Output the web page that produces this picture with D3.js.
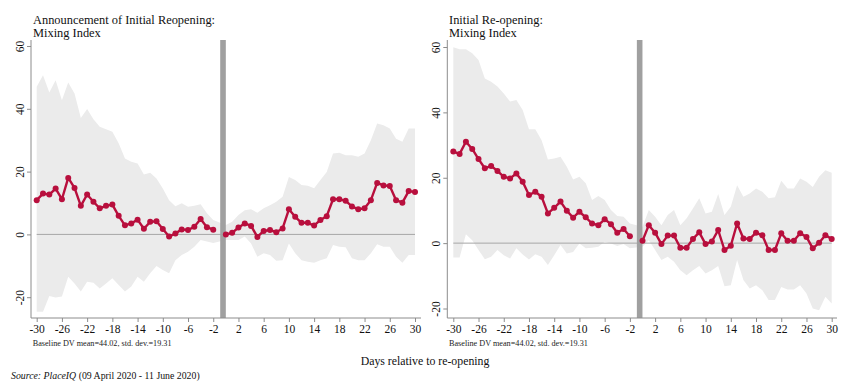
<!DOCTYPE html>
<html>
<head>
<meta charset="utf-8">
<script src="https://cdn.jsdelivr.net/npm/d3@7/dist/d3.min.js"></script>
<style>
  body { margin: 0; background: #fff; }
  svg { display: block; }
  svg text { font-family: "Liberation Serif", "Times New Roman", serif; }
</style>
</head>
<body>
<svg id="chart" width="850" height="392"></svg>
<script>
// ---- Data ----
const days = [-30,-29,-28,-27,-26,-25,-24,-23,-22,-21,-20,-19,-18,-17,-16,-15,-14,-13,-12,-11,-10,-9,-8,-7,-6,-5,-4,-3,-2,
              0,1,2,3,4,5,6,7,8,9,10,11,12,13,14,15,16,17,18,19,20,21,22,23,24,25,26,27,28,29,30];
const xTicks = [-30,-26,-22,-18,-14,-10,-6,-2,2,6,10,14,18,22,26,30];
const yTicks = [-20,0,20,40,60];

// Panel 1: Announcement of Initial Reopening
const annEst = [10.9,13.0,12.7,14.6,11.2,18.0,14.8,9.1,12.7,10.4,8.3,9.1,9.5,5.9,2.9,3.5,4.7,1.8,4.0,4.2,1.7,-0.7,0.3,1.6,1.4,2.4,4.9,2.3,1.5,
                0.0,0.5,2.2,3.5,2.7,-0.8,1.1,1.4,0.7,1.9,8.0,5.6,3.7,3.7,2.8,4.6,5.8,11.2,11.2,10.7,8.9,8.0,8.3,10.9,16.4,15.6,15.4,10.9,10.1,13.8,13.5];
const annHi  = [47.0,50.7,45.2,49.1,42.7,48.4,44.9,37.1,39.9,36.7,34.3,33.5,32.7,29.0,24.2,23.1,22.6,19.1,19.6,17.8,14.6,10.9,9.0,9.9,8.8,9.1,9.6,6.7,4.6,
                3.0,4.0,6.2,7.7,8.0,6.9,8.3,9.3,10.4,12.0,18.3,17.3,15.7,15.5,14.7,17.3,19.9,25.8,26.0,25.2,25.2,24.7,25.8,30.0,35.3,34.8,33.7,30.5,29.5,33.7,33.7];
const annLo  = [-24.6,-24.6,-19.6,-20.1,-19.8,-13.5,-15.6,-18.2,-15.1,-15.4,-17.2,-15.6,-14.0,-16.1,-18.2,-16.6,-13.5,-15.1,-12.4,-10.1,-11.3,-12.4,-8.2,-6.6,-5.5,-3.9,-1.8,-2.3,-2.7,
                -1.8,-1.8,-1.8,-0.7,-2.9,-7.1,-6.0,-6.6,-8.4,-8.2,-2.9,-6.0,-8.2,-8.7,-9.0,-8.2,-7.6,-3.4,-3.9,-4.1,-7.6,-8.2,-8.2,-6.0,-3.1,-3.9,-3.9,-7.1,-9.0,-6.6,-6.6];

// Panel 2: Initial Re-opening
const reoEst = [28.0,27.3,31.0,28.8,25.7,22.9,23.6,22.1,20.3,19.8,21.3,18.8,14.7,15.7,14.2,9.1,10.8,12.7,9.9,7.8,9.6,7.9,6.0,5.5,7.3,5.8,3.2,4.3,2.1,
                0.7,5.5,3.2,-0.3,2.3,2.3,-1.4,-1.4,1.3,3.3,-0.3,0.5,4.0,-2.1,-0.8,6.0,1.4,1.3,3.2,2.4,-2.1,-2.1,3.0,0.7,0.7,3.0,1.9,-1.6,0.1,2.4,1.3];
const reoHi  = [59.9,59.3,59.3,58.1,56.0,50.4,49.4,47.9,45.8,43.3,43.8,40.7,34.8,34.8,31.5,25.6,25.9,26.4,23.4,19.5,20.3,18.3,13.2,14.4,13.2,10.1,8.3,8.1,6.0,
                5.0,10.1,8.1,5.5,8.6,10.1,5.5,7.6,10.6,13.7,9.1,9.6,15.0,8.6,11.1,17.7,14.2,15.2,16.7,15.7,13.7,14.0,19.1,16.7,16.7,19.8,18.8,17.2,20.3,22.3,21.5];
const reoLo  = [-4.4,-4.4,2.7,0.9,-2.1,-4.9,-4.2,-2.1,-3.7,-4.7,-1.6,-3.5,-5.0,-3.4,-4.2,-6.7,-3.7,-0.6,-3.2,-2.7,-0.1,-1.6,-1.4,-1.1,0.4,-0.1,-0.9,-0.3,-1.6,
                -1.1,0.9,-2.1,-5.2,-4.2,-5.7,-8.3,-9.8,-8.3,-7.0,-9.3,-8.3,-7.0,-13.2,-12.9,-5.2,-11.3,-13.9,-12.9,-14.4,-17.4,-17.4,-13.4,-14.2,-14.2,-12.9,-15.4,-20.0,-20.5,-16.4,-18.5];

const titles = [["Announcement of Initial Reopening:", "Mixing Index"], ["Initial Re-opening:", "Mixing Index"]];
const baselineNote = "Baseline DV mean=44.02, std. dev.=19.31";
const xTitle = "Days relative to re-opening";
const eventDay = -0.45;

// ---- Layout ----
const SERIF = "'Liberation Serif', 'Times New Roman', serif";
const panels = [
  { title: titles[0], est: annEst, hi: annHi, lo: annLo,
    axX: 31, axRight: 421, axTop: 40, axBottom: 318,
    xr: [36.7, 415], yr: [297.2, 46], textX: 33 },
  { title: titles[1], est: reoEst, hi: reoHi, lo: reoLo,
    axX: 447.3, axRight: 837, axTop: 40, axBottom: 318,
    xr: [453.3, 831.7], yr: [308.5, 47], textX: 449 }
];

const RED = "#b80f3d";
const svg = d3.select("#chart");

panels.forEach(p => {
  const x = d3.scaleLinear().domain([-30, 30]).range(p.xr);
  const y = d3.scaleLinear().domain([-20, 60]).range(p.yr);
  const g = svg.append("g");
  const rows = days.map((d, i) => ({ d, est: p.est[i], hi: p.hi[i], lo: p.lo[i] }));

  // CI band
  g.append("path").datum(rows)
    .attr("fill", "#ebebeb")
    .attr("d", d3.area().x(r => x(r.d)).y0(r => y(r.lo)).y1(r => y(r.hi)));

  // zero line
  g.append("line")
    .attr("x1", x(-30)).attr("x2", x(30)).attr("y1", y(0)).attr("y2", y(0))
    .attr("stroke", "#a6a6a6").attr("stroke-width", 1);

  // event bar
  g.append("rect")
    .attr("x", x(eventDay) - 2.8).attr("width", 5.6)
    .attr("y", p.axTop).attr("height", p.axBottom - p.axTop)
    .attr("fill", "#a0a0a0");

  // estimate lines (pre and post separately)
  const line = d3.line().x(r => x(r.d)).y(r => y(r.est));
  [rows.filter(r => r.d < 0), rows.filter(r => r.d >= 0)].forEach(seg => {
    g.append("path").datum(seg)
      .attr("fill", "none").attr("stroke", RED).attr("stroke-width", 2.4)
      .attr("stroke-linejoin", "round").attr("d", line);
  });
  g.selectAll("circle.pt").data(rows).join("circle")
    .attr("class", "pt")
    .attr("cx", r => x(r.d)).attr("cy", r => y(r.est)).attr("r", 3)
    .attr("fill", RED);

  // axes
  const xAxis = d3.axisBottom(x).tickValues(xTicks).tickFormat(d => String(d)).tickSize(4).tickPadding(3);
  const gx = g.append("g").attr("transform", `translate(0,${p.axBottom})`).call(xAxis)
    .attr("font-family", SERIF).attr("font-size", 11.5);
  gx.select(".domain").remove();
  gx.append("line").attr("x1", p.axX).attr("x2", p.axRight).attr("stroke", "#8c8c8c");
  gx.selectAll(".tick line").attr("stroke", "#8c8c8c");
  gx.selectAll("text").attr("fill", "#111");

  const yAxis = d3.axisLeft(y).tickValues(yTicks).tickFormat(d => String(d)).tickSize(4).tickPadding(3);
  const gy = g.append("g").attr("transform", `translate(${p.axX},0)`).call(yAxis)
    .attr("font-family", SERIF).attr("font-size", 11.5);
  gy.select(".domain").remove();
  gy.append("line").attr("y1", p.axTop).attr("y2", p.axBottom).attr("stroke", "#8c8c8c");
  gy.selectAll(".tick line").attr("stroke", "#8c8c8c");
  gy.selectAll(".tick text")
    .attr("x", null).attr("dy", null)
    .attr("transform", "translate(-7,0) rotate(-90)")
    .attr("text-anchor", "middle").attr("fill", "#111");

  // titles
  g.append("text").attr("x", p.textX).attr("y", 24).attr("font-size", 12.4).attr("fill", "#111").text(p.title[0]);
  g.append("text").attr("x", p.textX).attr("y", 36.5).attr("font-size", 12.4).attr("fill", "#111").text(p.title[1]);

  // baseline note
  g.append("text").attr("x", p.axX + 1.7).attr("y", 346).attr("font-size", 8.2).attr("fill", "#222").text(baselineNote);
});

// shared x title
svg.append("text").attr("x", 425).attr("y", 365).attr("text-anchor", "middle")
  .attr("font-size", 11.8).attr("fill", "#111").text(xTitle);

// source
const src = svg.append("text").attr("x", 11).attr("y", 379).attr("font-size", 9.8).attr("fill", "#111");
src.append("tspan").attr("font-style", "italic").text("Source: PlaceIQ");
src.append("tspan").text(" (09 April 2020 - 11 June 2020)");
</script>
</body>
</html>
